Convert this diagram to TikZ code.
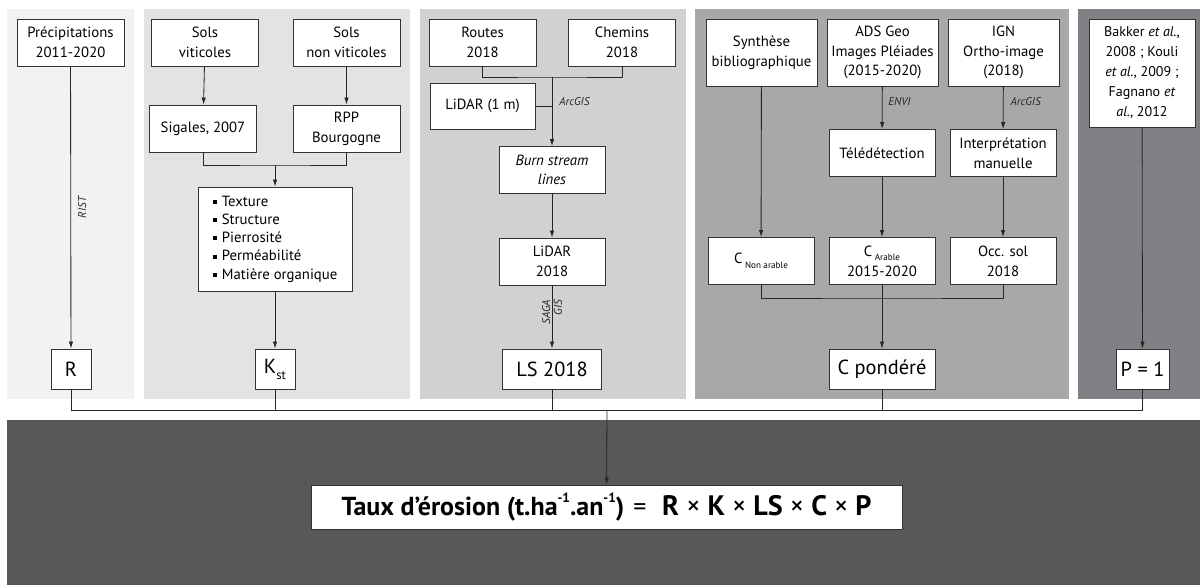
\documentclass[tikz,border=0pt]{standalone}
\usepackage{fontspec}
\setmainfont{PT Sans}
\usepackage{xcolor}
\usetikzlibrary{positioning, arrows.meta}
\definecolor{panA}{HTML}{F2F2F2}
\definecolor{panB}{HTML}{E2E3E4}
\definecolor{panC}{HTML}{D0D1D3}
\definecolor{panD}{HTML}{A7A8AA}
\definecolor{panE}{HTML}{808184}
\definecolor{panF}{HTML}{58585A}
\newcommand{\sqb}{\rule[0.3ex]{0.55ex}{0.55ex}\hspace{0.35em}}
\newcommand{\smallsub}[1]{\raisebox{-0.6ex}{\fontsize{6.5}{7}\selectfont #1}}
\newcommand{\smallsup}[1]{\raisebox{1.05ex}{\fontsize{9.5}{10}\selectfont #1}}

\begin{document}
\begin{tikzpicture}[x=0.025cm, y=-0.025cm,
  box/.style={draw=black!80, fill=white, line width=0.6pt, align=center, inner sep=1pt, minimum width=2.675cm, minimum height=1.175cm, font=\fontsize{10.5}{14}\selectfont},
  tall/.style={box, minimum width=2.775cm, minimum height=1.675cm},
  res/.style={box, minimum height=1cm, font=\fontsize{14.5}{16}\selectfont},
  flow/.style={-{Latex[length=5pt,width=3.2pt]}, draw=black!85, line width=0.6pt},
  link/.style={draw=black!85, line width=0.6pt},
  lbl/.style={font=\fontsize{8}{9}\selectfont\itshape, inner sep=1pt, text=black!85}
]
  \useasboundingbox (0,0) rectangle (1200,585);
  % panels
  \fill[white] (0,0) rectangle (1200,585);
  \fill[panA] (7,9) rectangle (134,399);
  \fill[panB] (144,9) rectangle (410,399);
  \fill[panC] (420,9) rectangle (686,399);
  \fill[panD] (695,9) rectangle (1069,399);
  \fill[panE] (1078,9) rectangle (1200,399);
  \fill[panF] (7,420) rectangle (1200,585);

  % R
  \node[box] (prec) at (70.5,42.5) {Précipitations\\2011-2020};
  \node[res, minimum width=1cm] (rr) at (71,369) {R};

  % K
  \node[box] (solv) at (205,42.5) {Sols\\viticoles};
  \node[box] (solnv) at (346.5,42.5) {Sols\\non viticoles};
  \node[box] (sig) at (203,128.5) {Sigales, 2007};
  \node[box] (rpp) at (346.5,128.5) {RPP\\Bourgogne};
  \node[box, minimum width=3.85cm, minimum height=2.6cm, align=left, font=\fontsize{10.5}{13}\selectfont] (list) at (275,239)
    {\sqb Texture\\\sqb Structure\\\sqb Pierrosité\\\sqb Perméabilité\\\sqb Matière organique};
  \node[res, minimum width=1cm] (kst) at (275,369) {K\smallsub{\fontsize{9}{9}\selectfont st}};

  % LS
  \node[box] (routes) at (482.5,42.5) {Routes\\2018};
  \node[box] (chem) at (622,42.5) {Chemins\\2018};
  \node[box, minimum width=2.625cm, minimum height=1.15cm] (lid1) at (482.5,106) {LiDAR (1 m)};
  \node[box, minimum width=2.65cm] (burn) at (552,170) {\textit{Burn stream}\\\textit{lines}};
  \node[box, minimum width=2.65cm] (lid18) at (552,261.5) {LiDAR\\2018};
  \node[res, minimum width=2.475cm] (ls) at (552,369) {LS 2018};

  % C
  \node[tall] (synth) at (761.5,52.5) {Synthèse\\bibliographique};
  \node[tall] (ads) at (882.5,52.5) {ADS Geo\\Images Pléiades\\(2015-2020)};
  \node[tall] (ign) at (1003.5,52.5) {IGN\\Ortho-image\\(2018)};
  \node[box, minimum width=2.65cm] (tele) at (882,153) {Télédétection};
  \node[box, minimum width=2.65cm] (interp) at (1003,153) {Interprétation\\manuelle};
  \node[box, minimum width=2.65cm] (cna) at (761,261) {C\,\smallsub{Non arable}};
  \node[box, minimum width=2.65cm] (ca) at (882,261) {C\,\smallsub{Arable}\\2015-2020};
  \node[box, minimum width=2.65cm] (occ) at (1003,261) {Occ. sol\\2018};
  \node[res, minimum width=2.65cm] (cpond) at (882,369) {C pondéré};

  % P
  \node[box, minimum width=2.65cm, minimum height=2.7cm, font=\fontsize{10}{14.2}\selectfont] (bak) at (1142,73)
    {Bakker \textit{et al.},\\2008 ; Kouli\\\textit{et al.}, 2009 ;\\Fagnano \textit{et}\\\textit{al.}, 2012};
  \node[res, minimum width=1.325cm] (p1) at (1142.5,369) {P = 1};

  % formula
  \node[box, minimum width=14.775cm, minimum height=1.1cm, font=\bfseries] (form) at (606.5,507)
    {\fontsize{18.5}{20}\selectfont Taux d’érosion (t.ha\smallsup{-1}.an\smallsup{-1})\hspace{0.35em}{\mdseries =}\hspace{0.6em}\fontsize{20}{22}\selectfont R {\mdseries ×} K {\mdseries ×} LS {\mdseries ×} C {\mdseries ×} P};

  \coordinate (kj) at (275,165);
  \coordinate (lsj) at (552,77);
  \coordinate (cj) at (882,298);
  \coordinate (bus) at (607,410);

  \draw[flow] (prec) -- (rr) node[lbl, rotate=90, pos=0.5, anchor=north, yshift=-4pt] (rist) {RIST};

  \draw[flow] (solv) -- (sig);
  \draw[flow] (solnv) -- (rpp);
  \draw[link] (sig.south) |- (kj) -| (rpp.south);
  \draw[flow] (kj) -- (list.north);
  \draw[flow] (list) -- (kst);

  \draw[link] (routes.south) |- (lsj) -| (chem.south);
  \draw[link] (lid1.east) -- (lid1.east -| lsj);
  \draw[flow] (lsj) -- (burn.north) node[lbl, pos=0.36, anchor=west, xshift=4pt] (arc1) {ArcGIS};
  \draw[flow] (burn) -- (lid18);
  \draw[flow] (lid18) -- (ls)
    node[lbl, rotate=90, pos=0.2, anchor=south east] (saga) {SAGA}
    node[lbl, rotate=90, pos=0.2, anchor=north east] (gis) {GIS};

  \draw[flow] (synth) -- (cna);
  \draw[flow] (ads) -- (tele) node[lbl, pos=0.36, anchor=west, xshift=3pt] (envi) {ENVI};
  \draw[flow] (tele) -- (ca);
  \draw[flow] (ign) -- (interp) node[lbl, pos=0.36, anchor=west, xshift=4pt] (arc2) {ArcGIS};
  \draw[flow] (interp) -- (occ);
  \draw[link] (cna.south) |- (cj) -| (occ.south);
  \draw[flow] (ca) -- (cpond);

  \draw[flow] (bak) -- (p1);

  \draw[link] (rr.south) -- (rr.south |- bus) -- (p1.south |- bus) -- (p1.south);
  \draw[link] (kst.south) -- (kst.south |- bus);
  \draw[link] (ls.south) -- (ls.south |- bus);
  \draw[link] (cpond.south) -- (cpond.south |- bus);
  \draw[flow] (bus) -- (form);
\end{tikzpicture}
\end{document}
